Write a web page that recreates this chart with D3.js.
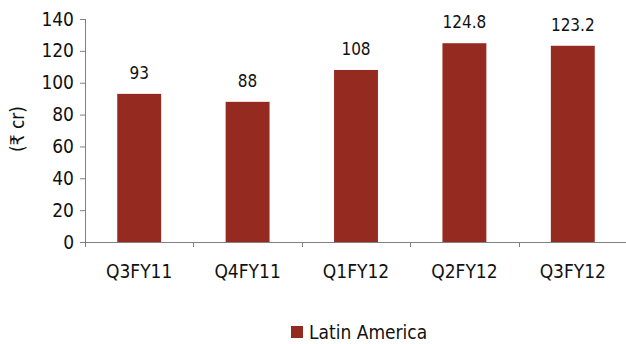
<!DOCTYPE html>
<html><head><meta charset="utf-8">
<script src="https://cdn.jsdelivr.net/npm/d3@7"></script>
<style>
body{margin:0;background:#fff;}
text{font-family:"Liberation Sans Narrow","DejaVu Sans Condensed","Roboto",sans-serif;fill:#111;}
</style></head><body>
<svg id="c" width="626" height="344"></svg>
<script>
const categories = ["Q3FY11","Q4FY11","Q1FY12","Q2FY12","Q3FY12"];
const values = [93, 88, 108, 124.8, 123.2];
const valueLabels = ["93","88","108","124.8","123.2"];
const yTicks = [0,20,40,60,80,100,120,140];
const seriesName = "Latin America";

const svg = d3.select("#c");
const color = "#952a20";
const axisColor = "#808080";
const x = d3.scaleBand().domain(categories).range([85, 627]);
const y = d3.scaleLinear().domain([0,140]).range([242, 19]);
const barW = x.bandwidth()*0.405;

svg.selectAll("rect.bar").data(values).enter().append("rect")
  .attr("x",(d,i)=>x(categories[i])+x.bandwidth()/2-barW/2)
  .attr("y",d=>y(d)).attr("width",barW).attr("height",d=>y(0)-y(d))
  .attr("fill",color);

svg.selectAll("text.val").data(values).enter().append("text")
  .attr("x",(d,i)=>x(categories[i])+x.bandwidth()/2)
  .attr("y",d=>y(d)-15).attr("text-anchor","middle")
  .style("font-size","17px").text((d,i)=>valueLabels[i]);

// y axis
const ya = svg.append("g").attr("transform","translate(85,0)")
  .call(d3.axisLeft(y).tickValues(yTicks).tickSize(5).tickSizeOuter(0).tickPadding(6));
ya.select(".domain").attr("stroke",axisColor).attr("d","M0.5,19V247");
ya.selectAll(".tick line").attr("stroke",axisColor);
ya.selectAll("text").style("font-size","19px").attr("fill","#111");

// x axis
const xa = svg.append("g").attr("transform","translate(0,242)");
xa.append("line").attr("x1",85).attr("x2",627).attr("y1",0.5).attr("y2",0.5).attr("stroke",axisColor);
xa.selectAll("line.t").data(categories.slice(1)).enter().append("line")
  .attr("x1",d=>Math.round(x(d))+0.5).attr("x2",d=>Math.round(x(d))+0.5)
  .attr("y1",0).attr("y2",5).attr("stroke",axisColor);
xa.selectAll("text").data(categories).enter().append("text")
  .attr("x",d=>x(d)+x.bandwidth()/2).attr("y",36).attr("text-anchor","middle")
  .style("font-size","19px").text(d=>d);

// y title
svg.append("text").attr("transform","translate(24,129) rotate(-90)")
  .attr("text-anchor","middle").style("font-size","19px").text("(₹ cr)");

// legend
svg.append("rect").attr("x",291).attr("y",326).attr("width",12).attr("height",12).attr("fill",color);
svg.append("text").attr("x",309).attr("y",339).style("font-size","19px").text(seriesName);
</script></body></html>
